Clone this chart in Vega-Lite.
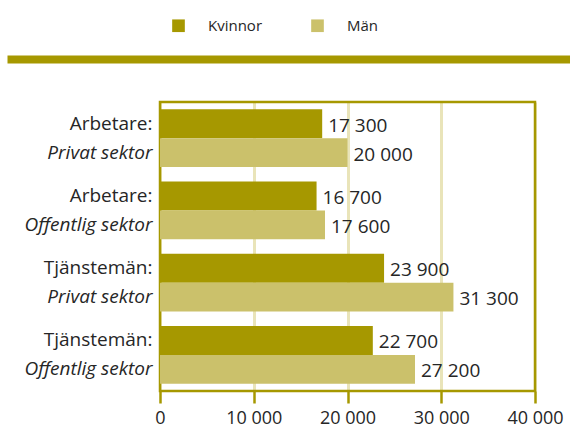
{
  "$schema": "https://vega.github.io/schema/vega-lite/v6.json",
  "width": 563,
  "height": 289,
  "autosize": {"type": "none"},
  "padding": {"left": 7, "top": 102, "right": 0, "bottom": 40},
  "config": {
    "locale": {"number": {"decimal": ",", "thousands": " ", "grouping": [3], "currency": ["", " kr"]}},
    "view": {"stroke": null},
    "font": "Open Sans"
  },
  "data": {
    "values": [
      {"grupp": "Arbetare:|Privat sektor", "kon": "Kvinnor", "lon": 17300},
      {"grupp": "Arbetare:|Privat sektor", "kon": "Män", "lon": 20000},
      {"grupp": "Arbetare:|Offentlig sektor", "kon": "Kvinnor", "lon": 16700},
      {"grupp": "Arbetare:|Offentlig sektor", "kon": "Män", "lon": 17600},
      {"grupp": "Tjänstemän:|Privat sektor", "kon": "Kvinnor", "lon": 23900},
      {"grupp": "Tjänstemän:|Privat sektor", "kon": "Män", "lon": 31300},
      {"grupp": "Tjänstemän:|Offentlig sektor", "kon": "Kvinnor", "lon": 22700},
      {"grupp": "Tjänstemän:|Offentlig sektor", "kon": "Män", "lon": 27200}
    ]
  },
  "layer": [
    {
      "data": {"values": [{}]},
      "mark": {"type": "rect", "filled": false, "stroke": "#a69800", "strokeWidth": 2.5},
      "encoding": {
        "x": {"datum": 0, "type": "quantitative", "scale": {"domain": [-16320, 43733], "nice": false, "zero": false}, "axis": null},
        "x2": {"datum": 40000}
      }
    },
    {
      "mark": {"type": "bar"},
      "encoding": {
        "y": {
          "field": "grupp", "type": "nominal", "sort": null,
          "scale": {"paddingInner": 0.2, "paddingOuter": 0.1},
          "axis": {"orient": "left", "offset": -153, "title": null, "domain": false, "ticks": false, "labelPadding": 8, "labelFontSize": 19, "labelColor": "#262626", "labelOffset": -14.5, "labelBaseline": "middle", "labelExpr": "split(datum.label, '|')[0]"}
        },
        "yOffset": {"field": "kon", "type": "nominal", "sort": ["Kvinnor", "Män"], "scale": {"paddingInner": 0}},
        "x": {
          "field": "lon", "type": "quantitative",
          "scale": {"domain": [-16320, 43733], "nice": false, "zero": false},
          "axis": {"orient": "bottom", "values": [0, 10000, 20000, 30000, 40000], "format": ",d", "domain": false, "ticks": true, "tickColor": "#a69800", "tickWidth": 2.5, "tickSize": 12, "grid": true, "gridColor": "#e9e4b9", "gridWidth": 3, "labelFontSize": 18, "labelColor": "#262626", "labelPadding": 6, "labelFlush": false, "labelOverlap": false, "title": null}
        },
        "x2": {"datum": 0},
        "color": {
          "field": "kon", "type": "nominal",
          "scale": {"domain": ["Kvinnor", "Män"], "range": ["#a69800", "#cbc16b"]},
          "legend": {"orient": "none", "legendX": 164, "legendY": -84, "direction": "horizontal", "title": null, "symbolType": "square", "symbolSize": 160, "symbolStrokeWidth": 0, "symbolOpacity": 1, "labelFontSize": 15, "labelOffset": 22, "columnPadding": 47, "padding": 0, "labelColor": "#262626"}
        }
      }
    },
    {
      "mark": {"type": "text", "align": "left", "dx": 6, "dy": 2, "baseline": "middle", "fontSize": 19, "color": "#262626"},
      "encoding": {
        "y": {
          "field": "grupp", "type": "nominal", "sort": null,
          "scale": {"paddingInner": 0.2, "paddingOuter": 0.1},
          "axis": {"orient": "left", "offset": -153, "title": null, "domain": false, "ticks": false, "labelPadding": 8, "labelFontSize": 19, "labelColor": "#262626", "labelOffset": 14.5, "labelBaseline": "middle", "labelFontStyle": "italic", "labelExpr": "split(datum.label, '|')[1]"}
        },
        "yOffset": {"field": "kon", "type": "nominal", "sort": ["Kvinnor", "Män"], "scale": {"paddingInner": 0}},
        "x": {
          "field": "lon", "type": "quantitative",
          "scale": {"domain": [-16320, 43733], "nice": false, "zero": false},
          "axis": {"orient": "top", "offset": 43, "domain": true, "domainColor": "#a69800", "domainWidth": 8, "ticks": false, "labels": false, "grid": false, "title": null}
        },
        "text": {"field": "lon", "type": "quantitative", "format": ",d"}
      }
    }
  ],
  "resolve": {"axis": {"x": "independent", "y": "independent"}}
}
